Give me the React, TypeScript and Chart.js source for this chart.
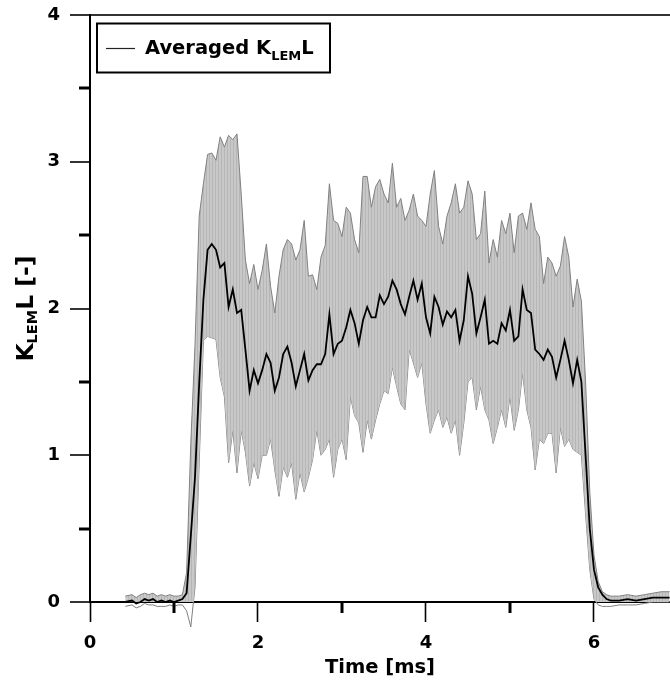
import React, { useEffect, useRef } from "react";
import { Chart, registerables } from "chart.js";

Chart.register(...registerables);

// ---------------- data ----------------
const timeMs = [
  0.42, 0.5, 0.55, 0.6, 0.65, 0.7, 0.75, 0.8, 0.85, 0.9, 0.95, 1.0, 1.05,
  1.1, 1.15, 1.2, 1.25, 1.3, 1.35, 1.4, 1.45, 1.5, 1.55,
  1.6, 1.65, 1.7, 1.75, 1.8, 1.85, 1.9, 1.95, 2.0, 2.05,
  2.1, 2.15, 2.2, 2.25, 2.3, 2.35, 2.4, 2.45, 2.5, 2.55,
  2.6, 2.65, 2.7, 2.75, 2.8, 2.85, 2.9, 2.95, 3.0, 3.05,
  3.1, 3.15, 3.2, 3.25, 3.3, 3.35, 3.4, 3.45, 3.5, 3.55,
  3.6, 3.65, 3.7, 3.75, 3.8, 3.85, 3.9, 3.95, 4.0, 4.05,
  4.1, 4.15, 4.2, 4.25, 4.3, 4.35, 4.4, 4.45, 4.5, 4.55,
  4.6, 4.65, 4.7, 4.75, 4.8, 4.85, 4.9, 4.95, 5.0, 5.05,
  5.1, 5.15, 5.2, 5.25, 5.3, 5.35, 5.4, 5.45, 5.5, 5.55,
  5.6, 5.65, 5.7, 5.75, 5.8, 5.85, 5.9, 5.95, 6.0, 6.05,
  6.1, 6.15, 6.2, 6.3, 6.4, 6.5, 6.6, 6.7, 6.8, 6.9,
];

const meanK = [
  0.0, 0.01, -0.01, 0.0, 0.02, 0.01, 0.02, 0.0, 0.01, 0.0, 0.01, 0.0, 0.01,
  0.02, 0.06, 0.45, 0.85, 1.49, 2.06, 2.4, 2.44, 2.4, 2.28,
  2.31, 2.01, 2.13, 1.97, 1.99, 1.72, 1.44, 1.58, 1.49, 1.58,
  1.69, 1.63, 1.44, 1.53, 1.69, 1.74, 1.63, 1.47, 1.58, 1.69,
  1.51, 1.58, 1.62, 1.62, 1.69, 1.96, 1.69, 1.76, 1.78, 1.87,
  1.99, 1.9, 1.76, 1.92, 2.01, 1.94, 1.94, 2.09, 2.03, 2.08,
  2.19, 2.13, 2.03, 1.96, 2.08, 2.19, 2.06, 2.17, 1.94, 1.83,
  2.08, 2.01, 1.89, 1.98, 1.94, 1.99, 1.78, 1.92, 2.22, 2.1,
  1.83, 1.94, 2.06, 1.76, 1.78, 1.76, 1.9, 1.85, 1.99, 1.78,
  1.81, 2.13, 1.99, 1.97, 1.72, 1.69, 1.65, 1.72, 1.67, 1.53,
  1.65, 1.78, 1.65, 1.49, 1.65, 1.5, 1.0, 0.5, 0.22, 0.1,
  0.05, 0.02, 0.01, 0.01, 0.02, 0.01, 0.02, 0.03, 0.03, 0.03,
];

const upperK = [
  0.04, 0.05, 0.03, 0.05, 0.06, 0.05, 0.06, 0.04, 0.05, 0.04, 0.05, 0.04, 0.04,
  0.05, 0.2, 1.08, 1.75, 2.63, 2.85, 3.05, 3.06, 3.01, 3.17,
  3.1, 3.18, 3.15, 3.19, 2.78, 2.33, 2.17, 2.3, 2.13, 2.26,
  2.44, 2.15, 1.97, 2.22, 2.4, 2.47, 2.44, 2.33, 2.4, 2.6,
  2.22, 2.23, 2.13, 2.35, 2.43, 2.85, 2.6, 2.58, 2.49, 2.69,
  2.65, 2.47, 2.38, 2.9, 2.9, 2.69, 2.83, 2.88, 2.78, 2.72,
  2.99, 2.69, 2.75, 2.6, 2.67, 2.78, 2.63, 2.6, 2.56, 2.78,
  2.94, 2.56, 2.44, 2.63, 2.72, 2.85, 2.65, 2.69, 2.87, 2.78,
  2.47, 2.51, 2.8, 2.31, 2.47, 2.35, 2.6, 2.51, 2.65, 2.38,
  2.63, 2.65, 2.54, 2.72, 2.54, 2.49, 2.17, 2.35, 2.31, 2.22,
  2.29, 2.49, 2.35, 2.01, 2.2, 2.05, 1.5, 0.75, 0.32, 0.14,
  0.07, 0.05, 0.04, 0.04, 0.05, 0.04, 0.05, 0.06, 0.07, 0.07,
];

const lowerK = [
  -0.03, -0.02, -0.04, -0.03, -0.01, -0.02, -0.02, -0.03, -0.03, -0.03, -0.02, -0.03, -0.02,
  -0.02, -0.06, -0.17, 0.1, 0.95, 1.78, 1.81, 1.8, 1.79, 1.53,
  1.4, 0.95, 1.17, 0.88, 1.17, 1.02, 0.79, 0.95, 0.84, 1.0,
  1.0, 1.11, 0.9, 0.72, 0.92, 0.85, 0.95, 0.7, 0.88, 0.75,
  0.85, 0.97, 1.17, 1.0, 1.04, 1.11, 0.85, 1.04, 1.11, 0.97,
  1.4, 1.27, 1.22, 1.02, 1.24, 1.11, 1.24, 1.35, 1.44, 1.42,
  1.6, 1.47, 1.35, 1.31, 1.72, 1.63, 1.53, 1.63, 1.35, 1.15,
  1.24, 1.31, 1.19, 1.26, 1.15, 1.24, 1.0, 1.22, 1.5, 1.53,
  1.31, 1.47, 1.31, 1.24, 1.08, 1.19, 1.31, 1.19, 1.4, 1.17,
  1.31, 1.56, 1.31, 1.19, 0.9, 1.11, 1.08, 1.15, 1.15, 0.88,
  1.19, 1.06, 1.11, 1.04, 1.02, 1.0, 0.6, 0.22, 0.02, -0.02,
  -0.03, -0.03, -0.03, -0.02, -0.02, -0.02, -0.01, 0.0, 0.0, 0.0,
];

const xMin = 0;
const xMax = 6.905;
const yMin = 0;
const yMax = 4;
const xTickValues = [0, 2, 4, 6];
const xMinorTickValues = [1, 3, 5];
const yTickValues = [0, 1, 2, 3, 4];
const yMinorTickValues = [0.5, 1.5, 2.5, 3.5];

const xTitle = "Time [ms]";
const yTitleParts = ["K", "LEM", "L [-]"];
const legendParts = ["Averaged K", "LEM", "L"];

const FAMILY = '"DejaVu Sans", "Liberation Sans", sans-serif';

type Part = { text: string; size: number; dy: number };

function richWidth(ctx: CanvasRenderingContext2D, parts: Part[]) {
  let w = 0;
  for (const p of parts) {
    ctx.font = `bold ${p.size}px ${FAMILY}`;
    w += ctx.measureText(p.text).width;
  }
  return w;
}

function drawRich(ctx: CanvasRenderingContext2D, parts: Part[], x: number, y: number) {
  let cx = x;
  for (const p of parts) {
    ctx.font = `bold ${p.size}px ${FAMILY}`;
    ctx.fillText(p.text, cx, y + p.dy);
    cx += ctx.measureText(p.text).width;
  }
}

const decorPlugin = {
  id: "decor",
  afterDraw(chart: any) {
    const { ctx, chartArea, scales } = chart;
    const xs = scales.x;
    const ys = scales.y;
    ctx.save();
    // minor ticks (short, thick)
    ctx.strokeStyle = "#000";
    ctx.lineWidth = 3;
    ctx.lineCap = "butt";
    for (const v of xMinorTickValues) {
      const px = Math.round(xs.getPixelForValue(v));
      ctx.beginPath();
      ctx.moveTo(px, chartArea.bottom);
      ctx.lineTo(px, chartArea.bottom + 11);
      ctx.stroke();
    }
    for (const v of yMinorTickValues) {
      const py = Math.round(ys.getPixelForValue(v));
      ctx.beginPath();
      ctx.moveTo(chartArea.left - 11, py);
      ctx.lineTo(chartArea.left, py);
      ctx.stroke();
    }

    // legend box
    const bx = chartArea.left + 7;
    const by = chartArea.top + 8.5;
    const bw = 233;
    const bh = 49;
    ctx.fillStyle = "#fff";
    ctx.fillRect(bx, by, bw, bh);
    ctx.strokeStyle = "#000";
    ctx.lineWidth = 2;
    ctx.strokeRect(bx, by, bw, bh);
    ctx.strokeStyle = "#222";
    ctx.lineWidth = 1.2;
    ctx.beginPath();
    ctx.moveTo(bx + 9, by + 25);
    ctx.lineTo(bx + 38, by + 25);
    ctx.stroke();
    ctx.fillStyle = "#000";
    ctx.textBaseline = "alphabetic";
    ctx.textAlign = "left";
    drawRich(
      ctx,
      [
        { text: legendParts[0], size: 19.5, dy: 0 },
        { text: legendParts[1], size: 13, dy: 5.5 },
        { text: legendParts[2], size: 19.5, dy: 0 },
      ],
      bx + 48,
      by + 30.5
    );

    // y-axis title (rotated, with subscript)
    const yParts: Part[] = [
      { text: yTitleParts[0], size: 23.5, dy: 0 },
      { text: yTitleParts[1], size: 14.5, dy: 4 },
      { text: yTitleParts[2], size: 23.5, dy: 0 },
    ];
    const cy = (chartArea.top + chartArea.bottom) / 2;
    ctx.translate(33, cy);
    ctx.rotate(-Math.PI / 2);
    const w = richWidth(ctx, yParts);
    drawRich(ctx, yParts, -w / 2, 0);
    ctx.restore();
  },
};

export default function App() {
  const canvasRef = useRef<HTMLCanvasElement | null>(null);

  useEffect(() => {
    const canvas = canvasRef.current;
    if (!canvas) return;

    // vertical-striped grey fill like the reference band
    const pc = document.createElement("canvas");
    pc.width = 3;
    pc.height = 1;
    const pctx = pc.getContext("2d")!;
    pctx.fillStyle = "#c8c8c8";
    pctx.fillRect(0, 0, 3, 1);
    pctx.fillStyle = "#b6b6b6";
    pctx.fillRect(2, 0, 1, 1);
    const ctx0 = canvas.getContext("2d")!;
    const pattern = ctx0.createPattern(pc, "repeat") || "#c4c4c4";

    const toPts = (arr: number[]) => timeMs.map((t, i) => ({ x: t, y: arr[i] }));

    const tickFont = { family: FAMILY, size: 18, weight: "bold" as const };

    const chart = new Chart(canvas, {
      type: "line",
      data: {
        datasets: [
          {
            label: "Averaged KLEML",
            data: toPts(meanK),
            borderColor: "#000",
            borderWidth: 1.8,
            pointRadius: 0,
            fill: false,
            tension: 0,
            clip: false as any,
          },
          {
            label: "upper",
            data: toPts(upperK),
            borderColor: "#808080",
            borderWidth: 1,
            backgroundColor: pattern as any,
            pointRadius: 0,
            fill: "+1",
            tension: 0,
            clip: false as any,
          },
          {
            label: "lower",
            data: toPts(lowerK),
            borderColor: "#808080",
            borderWidth: 1,
            pointRadius: 0,
            fill: false,
            tension: 0,
            clip: false as any,
          },
        ],
      },
      options: {
        responsive: false,
        animation: false,
        devicePixelRatio: 1,
        layout: { padding: { top: 15, right: 0, left: 0, bottom: 0 } },
        plugins: {
          legend: { display: false },
          tooltip: { enabled: false },
        },
        scales: {
          x: {
            type: "linear",
            min: xMin,
            max: xMax,
            afterFit: (s: any) => {
              s.height = 85;
              s.paddingLeft = 0;
              s.paddingRight = 0;
            },
            afterBuildTicks: (s: any) => {
              s.ticks = xTickValues.map((v) => ({ value: v }));
            },
            grid: {
              drawOnChartArea: false,
              drawTicks: true,
              tickLength: 20,
              tickColor: "#000",
              tickWidth: 1.6,
            },
            border: { display: true, color: "#000", width: 2 },
            ticks: {
              color: "#000",
              font: tickFont,
              padding: 11,
              maxRotation: 0,
              autoSkip: false,
            },
            title: {
              display: true,
              text: xTitle,
              color: "#000",
              font: { family: FAMILY, size: 19.5, weight: "bold" },
              padding: { top: 0, bottom: 7 },
            },
          },
          y: {
            type: "linear",
            min: yMin,
            max: yMax,
            afterFit: (s: any) => {
              s.width = 90;
              s.paddingTop = 0;
              s.paddingBottom = 0;
            },
            afterBuildTicks: (s: any) => {
              s.ticks = yTickValues.map((v) => ({ value: v }));
            },
            grid: {
              drawOnChartArea: true,
              color: (c: any) =>
                c.tick && c.tick.value === yMax ? "#333" : "rgba(0,0,0,0)",
              lineWidth: 2,
              drawTicks: true,
              tickLength: 20,
              tickColor: "#000",
              tickWidth: 1.6,
            },
            border: { display: true, color: "#000", width: 2 },
            ticks: {
              color: "#000",
              font: tickFont,
              padding: 10,
              autoSkip: false,
            },
          },
        },
      },
      plugins: [decorPlugin],
    });

    return () => {
      chart.destroy();
    };
  }, []);

  return (
    <div
      style={{
        position: "fixed",
        left: 0,
        top: 0,
        width: 670,
        height: 687,
        background: "#fff",
        overflow: "hidden",
      }}
    >
      <canvas ref={canvasRef} width={670} height={687} style={{ display: "block" }} />
    </div>
  );
}
